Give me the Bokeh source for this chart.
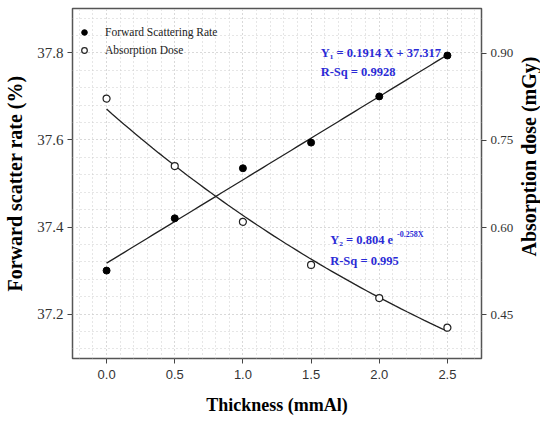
import numpy as np
from bokeh.plotting import figure
from bokeh.layouts import row
from bokeh.models import (Range1d, LinearAxis, Label, Legend, LegendItem,
                          FixedTicker, NumeralTickFormatter)
from bokeh.core.properties import value
from bokeh.embed import file_html
from bokeh.resources import INLINE

# Data
thickness = [0.0, 0.5, 1.0, 1.5, 2.0, 2.5]
forward_rate = [37.30, 37.42, 37.535, 37.594, 37.70, 37.794]
absorption_dose = [0.822, 0.706, 0.610, 0.536, 0.479, 0.428]

# Fit coefficients (from the chart's equations)
lin_slope, lin_intercept = 0.1914, 37.317
exp_a, exp_b = 0.804, -0.258

x_ticks = [0.0, 0.5, 1.0, 1.5, 2.0, 2.5]
left_ticks = [37.2, 37.4, 37.6, 37.8]
right_ticks = [0.45, 0.60, 0.75, 0.90]

SERIF = "Liberation Serif"
SANS = "Liberation Sans"
BLUE = "#2b2bd6"

p = figure(width=516, height=423, output_backend="svg", toolbar_location=None,
           x_range=Range1d(-0.25, 2.75), y_range=Range1d(37.098, 37.902),
           min_border_left=72, min_border_right=35, min_border_top=8,
           min_border_bottom=65)
p.extra_y_ranges = {"dose": Range1d(0.375, 0.977)}

p.outline_line_color = "#555555"
p.outline_line_width = 1.5
p.background_fill_color = "white"

# axes
xa = p.xaxis[0]
xa.ticker = FixedTicker(ticks=x_ticks, minor_ticks=list(np.round(np.arange(-0.2, 2.75, 0.1), 2)))
xa.formatter = NumeralTickFormatter(format="0.0")
xa.axis_label = "Thickness (mmAl)"
xa.axis_label_text_font = SERIF
xa.axis_label_text_font_style = "bold"
xa.axis_label_text_font_size = "18px"
xa.axis_label_text_color = "black"
xa.axis_label_standoff = 13
xa.major_label_text_font = SANS
xa.major_label_text_font_size = "13px"
xa.major_label_text_color = "#333333"
xa.major_label_standoff = 6
xa.axis_line_color = None
xa.major_tick_in = 0
xa.major_tick_out = 5
xa.major_tick_line_color = "#444444"
xa.minor_tick_line_color = None

ya = p.yaxis[0]
ya.ticker = FixedTicker(ticks=left_ticks, minor_ticks=list(np.round(np.arange(37.12, 37.9, 0.04), 3)))
ya.axis_label = "Forward scatter rate (%)"
ya.axis_label_text_font = SERIF
ya.axis_label_text_font_style = "bold"
ya.axis_label_text_font_size = "20px"
ya.axis_label_text_color = "black"
ya.axis_label_standoff = 8
ya.major_label_text_font = SERIF
ya.major_label_text_font_size = "15px"
ya.major_label_text_color = "#333333"
ya.major_label_standoff = 4
ya.axis_line_color = None
ya.major_tick_in = 0
ya.major_tick_out = 5
ya.major_tick_line_color = "#444444"
ya.minor_tick_line_color = None

ra = LinearAxis(y_range_name="dose", ticker=FixedTicker(ticks=right_ticks))
ra.formatter = NumeralTickFormatter(format="0.00")
ra.major_label_text_font = SERIF
ra.major_label_text_font_size = "13px"
ra.major_label_text_color = "#333333"
ra.major_label_standoff = 4
ra.axis_line_color = None
ra.major_tick_in = 0
ra.major_tick_out = 5
ra.major_tick_line_color = "#444444"
ra.minor_tick_line_color = None
p.add_layout(ra, "right")

# grid
for g in (p.xgrid[0], p.ygrid[0]):
    g.grid_line_color = "#cccccc"
    g.grid_line_dash = "1 3"
    g.grid_line_width = 1
    g.minor_grid_line_color = "#cccccc"
    g.minor_grid_line_dash = "1 3"
    g.minor_grid_line_width = 1

# fit lines
xf = np.linspace(0.0, 2.5, 60)
p.line(xf, lin_intercept + lin_slope * xf, line_color="#222222", line_width=1.3)
p.line(xf, exp_a * np.exp(exp_b * xf), line_color="#222222", line_width=1.3,
       y_range_name="dose")

# points
r1 = p.scatter(thickness, forward_rate, size=7, marker="circle",
               fill_color="black", line_color="black")
r2 = p.scatter(thickness, absorption_dose, size=7, marker="circle",
               fill_color="white", line_color="#222222", line_width=1.2,
               y_range_name="dose")

legend = Legend(items=[LegendItem(label="Forward Scattering Rate", renderers=[r1]),
                       LegendItem(label="Absorption Dose", renderers=[r2])],
                location=(5, 301))
legend.border_line_color = None
legend.background_fill_alpha = 0
legend.label_text_font = SERIF
legend.label_text_font_size = "11.5px"
legend.label_text_color = "#222222"
legend.glyph_width = 14
legend.glyph_height = 14
legend.label_height = 14
legend.label_standoff = 14
legend.spacing = 4
legend.margin = 0
legend.padding = 0
p.add_layout(legend)

# equations
def add_text(x, y, txt, size="12.5px", y_range="default"):
    lab = Label(x=x, y=y, text=txt, text_font=SERIF, text_font_style="bold",
                text_font_size=size, text_color=BLUE, text_baseline="middle",
                y_range_name=y_range)
    p.add_layout(lab)

add_text(1.57, 37.80, "Y\u2081 = 0.1914 X + 37.317")
add_text(1.57, 37.757, "R-Sq = 0.9928")
add_text(1.64, 0.578, "Y\u2082 = 0.804 e", y_range="dose")
add_text(2.13, 0.588, "-0.258X", size="8px", y_range="dose")
add_text(1.64, 0.542, "R-Sq = 0.995", y_range="dose")

# right axis title, drawn in a narrow companion figure so it reads bottom-to-top
side = figure(width=24, height=423, output_backend="svg", toolbar_location=None,
              x_range=Range1d(0, 1), y_range=Range1d(0, 1), min_border=0,
              outline_line_color=None)
side.axis.visible = False
side.grid.visible = False
side.text(x=[0.5], y=[0.577], text=["Absorption dose (mGy)"], angle=np.pi / 2,
          text_font=value(SERIF), text_font_style="bold", text_font_size="20px",
          text_color="black", text_align="center", text_baseline="middle")

layout = row(p, side, spacing=0)
open("out.html", "w").write(file_html(layout, INLINE))
